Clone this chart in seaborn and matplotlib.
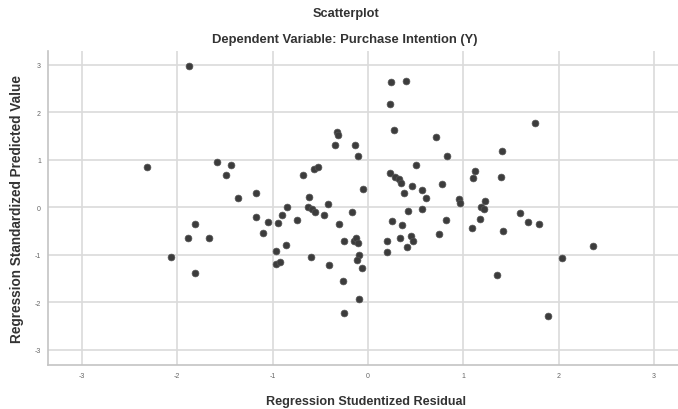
import matplotlib
matplotlib.use("Agg")
import matplotlib.pyplot as plt
import seaborn as sns
import pandas as pd

residual = [-1.875, -0.33, -0.31, -0.35, -0.14, -0.10, -2.32, -1.58, -1.44, -1.49,
            -0.68, -0.57, -0.52, -0.05, -1.36, -1.17, -0.62, -0.85, -0.63, -0.59,
            -0.56, -0.42, -0.90, -0.94, -1.05, -1.17, -1.10, -0.74, -0.46, -0.17,
            -0.30, -1.82, -1.89, -1.67, -2.07, -1.81, -0.86, -0.97, -0.96, -0.92,
            -0.60, -0.41, -0.25, -0.15, -0.13, -0.11, -0.09, -0.12, -0.06, -0.26,
            -0.09, -0.25, 0.24, 0.40, 0.23, 0.27, 1.75, 0.71, 0.83, 1.41,
            0.50, 1.12, 1.10, 1.40, 0.23, 0.28, 0.32, 0.35, 0.38, 0.46,
            0.57, 0.61, 0.78, 0.95, 0.97, 1.23, 1.19, 1.22, 0.42, 0.57,
            0.25, 0.36, 0.82, 0.74, 0.34, 0.45, 0.47, 0.41, 0.20, 0.20,
            1.09, 1.17, 1.42, 1.59, 1.68, 1.79, 2.03, 2.36, 1.35, 1.89]
predicted = [2.97, 1.58, 1.53, 1.32, 1.32, 1.09, 0.85, 0.96, 0.88, 0.68,
             0.68, 0.81, 0.85, 0.39, 0.19, 0.30, 0.21, 0.01, 0.00, -0.03,
             -0.10, 0.07, -0.16, -0.33, -0.30, -0.21, -0.54, -0.26, -0.17, -0.09,
             -0.36, -0.36, -0.64, -0.64, -1.04, -1.39, -0.80, -0.92, -1.19, -1.15,
             -1.05, -1.22, -0.70, -0.70, -0.65, -0.75, -1.00, -1.10, -1.28, -1.56,
             -1.94, -2.23, 2.64, 2.65, 2.18, 1.62, 1.78, 1.49, 1.09, 1.18,
             0.90, 0.76, 0.61, 0.63, 0.73, 0.64, 0.59, 0.52, 0.31, 0.45,
             0.37, 0.19, 0.49, 0.18, 0.09, 0.13, 0.01, -0.03, -0.08, -0.03,
             -0.28, -0.37, -0.26, -0.57, -0.65, -0.61, -0.72, -0.84, -0.72, -0.94,
             -0.44, -0.24, -0.49, -0.12, -0.31, -0.35, -1.06, -0.82, -1.43, -2.28]
ticks = [-3, -2, -1, 0, 1, 2, 3]

df = pd.DataFrame({"res": residual, "pred": predicted})

sns.set_style("white")
plt.rcParams["font.family"] = ["Liberation Sans", "DejaVu Sans"]

fig = plt.figure(figsize=(6.78, 4.10), dpi=100)
ax = fig.add_axes([48 / 678, 1 - 366 / 410, 1 - 48 / 678, (366 - 52) / 410])

sns.scatterplot(data=df, x="res", y="pred", ax=ax, color="#3c3c3c", s=24,
                edgecolor="#555555", linewidth=0.5, zorder=3)

ax.set_xlim(-3.357, 3.252)
ax.set_ylim(-3.32, 3.29)
ax.set_xticks(ticks)
ax.set_yticks(ticks)
ax.set_xticklabels([str(t) for t in ticks])
ax.set_yticklabels([str(t) for t in ticks])
ax.grid(True, color="#dadada", linewidth=1.2)
ax.set_axisbelow(True)
for side in ["top", "right"]:
    ax.spines[side].set_visible(False)
for side in ["left", "bottom"]:
    ax.spines[side].set_color("#c4c4c4")
    ax.spines[side].set_linewidth(1.2)
ax.tick_params(axis="both", length=2, width=0.8, color="#b0b0b0",
               labelsize=5, labelcolor="#666666", pad=3)

ax.set_xlabel("Regression Studentized Residual", fontsize=9.1, fontweight="bold",
              color="#333333", va="center")
ax.xaxis.set_label_coords((366 - 48) / 630, (366 - 402) / 314)
ax.set_ylabel("Regression Standardized Predicted Value", fontsize=9.8,
              fontweight="bold", color="#333333", va="center")
ax.yaxis.set_label_coords((17 - 48) / 630, (366 - 209) / 314)

fig.text(346 / 678, 1 - 14 / 410, "Scatterplot", ha="center", va="center",
         fontsize=9.2, fontweight="bold", color="#333333")
fig.text(345 / 678, 1 - 40 / 410, "Dependent Variable: Purchase Intention (Y)",
         ha="center", va="center", fontsize=9.4, fontweight="bold", color="#333333")

fig.savefig("out.png", dpi=100)
